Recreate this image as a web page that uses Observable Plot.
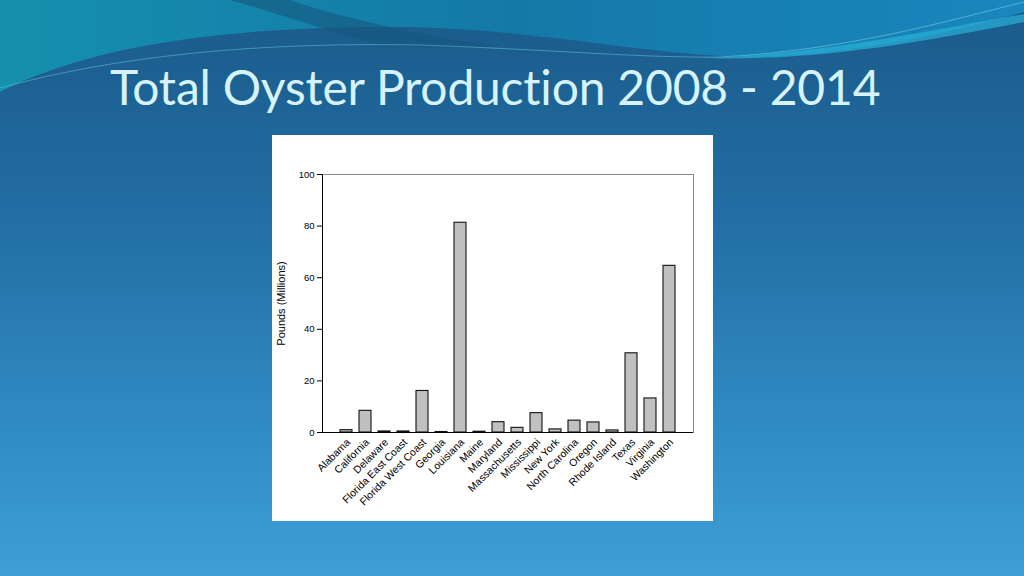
<!DOCTYPE html>
<html>
<head>
<meta charset="utf-8">
<script src="https://cdn.jsdelivr.net/npm/d3@7"></script>
<script src="https://cdn.jsdelivr.net/npm/@observablehq/plot@0.6"></script>
<style>
  html, body { margin: 0; padding: 0; }
  body {
    width: 1024px; height: 576px; overflow: hidden; position: relative;
    background: linear-gradient(to bottom, #1a5a89 0%, #236fa6 40%, #2f88c0 70%, #3d9fd6 100%);
  }
  #deco { position: absolute; left: 0; top: 0; }
  #title {
    position: absolute; left: 110px; top: 58px;
    font-family: Lato, "Open Sans", sans-serif; font-size: 48px; color: #d6f3fa;
    white-space: nowrap; letter-spacing: -0.2px;
  }
  #panel {
    position: absolute; left: 272px; top: 135px; width: 441px; height: 386px; background: #ffffff;
  }
</style>
</head>
<body>
<svg id="deco" width="1024" height="576">
  <defs>
    <linearGradient id="wv" x1="0" y1="0" x2="1" y2="0">
      <stop offset="0" stop-color="#1590ad"/>
      <stop offset="0.5" stop-color="#1479a8"/>
      <stop offset="1" stop-color="#1a86bd"/>
    </linearGradient>
  </defs>
  <path d="M0,92 C90,45 230,26 400,27 C520,28 620,50 720,56 C830,60 940,35 1024,12 L1024,0 L0,0 Z" fill="url(#wv)"/>
  <path d="M230,0 C300,20 340,35 380,45 C420,48 470,48 500,46 C440,40 330,15 290,0 Z" fill="#16577f" opacity="0.6"/>
  <path d="M700,58 C820,55 930,30 1024,14 L1024,22 C930,40 820,62 700,58 Z" fill="#2ab0d8" opacity="0.7"/>
  <path d="M0,88 C120,55 260,42 420,45 C560,50 640,58 720,57" fill="none" stroke="#6fd0e8" stroke-width="0.8" opacity="0.6"/>
  <path d="M720,57 C850,50 950,20 1024,2" fill="none" stroke="#8fe0f0" stroke-width="0.8" opacity="0.6"/>
</svg>
<div id="title">Total Oyster Production 2008 - 2014</div>
<div id="panel"></div>
<script>
const states = ["Alabama","California","Delaware","Florida East Coast","Florida West Coast","Georgia","Louisiana","Maine","Maryland","Massachusetts","Mississippi","New York","North Carolina","Oregon","Rhode Island","Texas","Virginia","Washington"];
const pounds = [0.9, 8.4, 0.4, 0.4, 16.1, 0.2, 81.3, 0.3, 4.0, 1.8, 7.5, 1.2, 4.6, 3.9, 0.8, 30.7, 13.2, 64.6];
const yTicks = [0, 20, 40, 60, 80, 100];
const yLabel = "Pounds (Millions)";

const data = states.map((s, i) => ({state: s, value: pounds[i]}));

const chart = Plot.plot({
  width: 441,
  height: 386,
  marginLeft: 50,
  marginRight: 20,
  marginTop: 39,
  marginBottom: 89,
  style: {fontFamily: "Liberation Sans, Arial, sans-serif", fontSize: "9.5px", color: "#000", background: "#fff"},
  x: {domain: states, paddingInner: 0.37, paddingOuter: 0.7, label: null},
  y: {domain: [0, 100], label: null},
  marks: [
    Plot.frame({stroke: "#8a8a8a"}),
    Plot.barY(data, {x: "state", y: "value", fill: "#c0c0c0", stroke: "#111", strokeWidth: 1.1}),
    Plot.ruleY([0], {stroke: "#000"}),
    Plot.frame({anchor: "left", stroke: "#000"}),
    Plot.axisY({ticks: yTicks, tickSize: 5, tickPadding: 3, fontSize: 9.5, label: null}),
    Plot.axisX({tickSize: 0, tickPadding: 8, dx: 2, tickRotate: -45, fontSize: 10.5, fill: "#000", label: null}),
    Plot.text([yLabel], {frameAnchor: "left", dx: -41, rotate: -90, textAnchor: "middle", fontSize: 11, fill: "#000"})
  ]
});
document.getElementById("panel").appendChild(chart);
</script>
</body>
</html>
